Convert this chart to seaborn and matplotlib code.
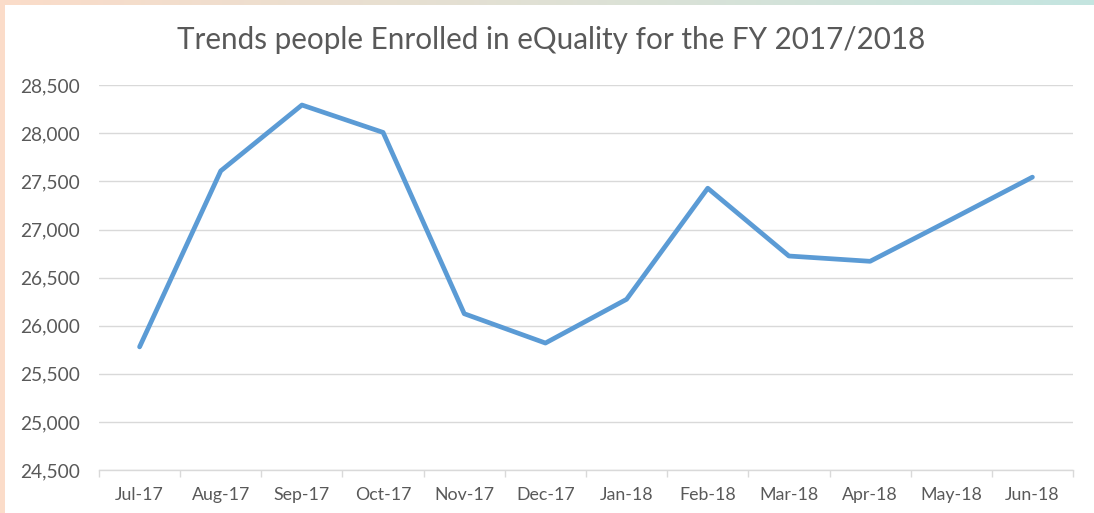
import numpy as np
import pandas as pd
import seaborn as sns
import matplotlib.pyplot as plt
from matplotlib.ticker import FuncFormatter, MultipleLocator, FixedLocator

months = ['Jul-17', 'Aug-17', 'Sep-17', 'Oct-17', 'Nov-17', 'Dec-17',
          'Jan-18', 'Feb-18', 'Mar-18', 'Apr-18', 'May-18', 'Jun-18']
enrolled = [25780, 27610, 28295, 28010, 26125, 25820,
            26275, 27430, 26725, 26670, 27105, 27545]

title = 'Trends people Enrolled in eQuality for the FY 2017/2018'

sns.set_style('white')
plt.rcParams['font.family'] = ['Lato', 'DejaVu Sans']

df = pd.DataFrame({'month': months, 'enrolled': enrolled})

fig = plt.figure(figsize=(10.94, 5.13), dpi=100)
ax = fig.add_axes([99 / 1094, 1 - 470 / 513, (1073 - 99) / 1094, (470 - 85.3) / 513])

sns.lineplot(df, x='month', y='enrolled', ax=ax, color='#5b9bd5', linewidth=3.4,
             solid_capstyle='round', solid_joinstyle='round', zorder=3)

ax.set_xlim(-0.5, len(months) - 0.5)
ax.set_ylim(24500, 28500)
ax.yaxis.set_major_locator(MultipleLocator(500))
ax.yaxis.set_major_formatter(FuncFormatter(lambda v, p: f'{int(v):,}'))
ax.grid(axis='y', color='#d9d9d9', linewidth=1.0)
ax.set_axisbelow(True)

# category boundary tick marks like excel
ax.xaxis.set_minor_locator(FixedLocator(np.arange(-0.5, len(months), 1.0)))
ax.tick_params(axis='x', which='minor', length=5, width=1, color='#d9d9d9', bottom=True)
ax.tick_params(axis='x', which='major', length=0, pad=12.5, labelsize=12.8, labelcolor='#595959')
ax.tick_params(axis='y', length=0, pad=13.5, labelsize=13.8, labelcolor='#595959')

for s in ['top', 'right', 'left']:
    ax.spines[s].set_visible(False)
ax.spines['bottom'].set_color('#d9d9d9')
ax.spines['bottom'].set_linewidth(1.0)

ax.set_xlabel(None)
ax.set_ylabel(None)

fig.text(551 / 1094, 1 - 40 / 513, title, ha='center', va='center',
         fontsize=21.3, color='#595959')

# slide frame: peach strip on the left, gradient strip on top
left = fig.add_axes([0, 0, 5 / 1094, 1])
left.set_facecolor('#fbdcc9')
left.set_xticks([])
left.set_yticks([])
for s in left.spines.values():
    s.set_visible(False)

top = fig.add_axes([0, 1 - 5 / 513, 1, 5 / 513])
c0 = np.array([251, 220, 201]) / 255
c1 = np.array([196, 229, 224]) / 255
grad = np.linspace(0, 1, 256)[None, :, None]
top.imshow(c0 + (c1 - c0) * grad, aspect='auto', extent=[0, 1, 0, 1])
top.axis('off')

fig.savefig('out.png', dpi=100)
